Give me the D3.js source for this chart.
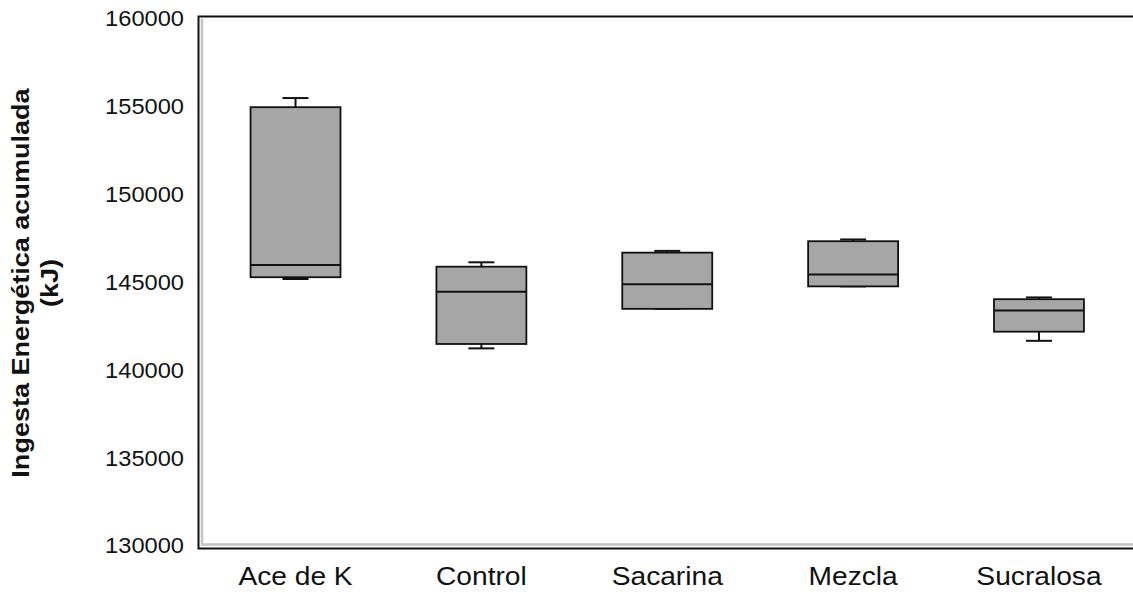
<!DOCTYPE html>
<html>
<head>
<meta charset="utf-8">
<script src="https://cdn.jsdelivr.net/npm/d3@7"></script>
<style>
  html, body { margin: 0; padding: 0; background: #fff; }
  svg { display: block; font-family: "Liberation Sans", Arial, sans-serif; }
</style>
</head>
<body>
<svg id="chart" width="1133" height="592"></svg>
<script>
// Treatment groups and five-number summaries (kJ)
const categories = ["Ace de K", "Control", "Sacarina", "Mezcla", "Sucralosa"];
const whiskerHigh = [155500, 146150, 146800, 147450, 144150];
const q3          = [154980, 145900, 146700, 147350, 144050];
const medians     = [146000, 144480, 144900, 145450, 143400];
const q1          = [145300, 141500, 143500, 144780, 142200];
const whiskerLow  = [145200, 141250, 143500, 144780, 141680];
const yTicks = [130000, 135000, 140000, 145000, 150000, 155000, 160000];
const yTitle = ["Ingesta Energética acumulada", "(kJ)"];

const rows = categories.map((c, i) => ({
  cat: c, hi: whiskerHigh[i], q3: q3[i], med: medians[i], q1: q1[i], lo: whiskerLow[i]
}));

const svg = d3.select("#chart");
const plotLeft = 198.5, plotTop = 16.5, plotBottom = 548.5, plotRight = 1136;
const wide = 1.1;       // horizontal glyph stretch for axis labels
const titleLong = 1.23; // stretch of the title along its reading direction

const x = d3.scaleBand()
  .domain(categories)
  .range([plotLeft, plotRight])
  .paddingInner(0.516)
  .paddingOuter(0.28);

const y = d3.scaleLinear()
  .domain([130000, 160000])
  .range([546, 19]);

// Plot frame: black border with a light grey inner edge on the left and bottom
svg.append("line").attr("x1", plotLeft + 3.5).attr("x2", plotLeft + 3.5)
  .attr("y1", plotTop + 2).attr("y2", plotBottom - 3)
  .attr("stroke", "#c4c4c4").attr("stroke-width", 2.5);
svg.append("line").attr("x1", plotLeft + 3).attr("x2", plotRight)
  .attr("y1", plotBottom - 4).attr("y2", plotBottom - 4)
  .attr("stroke", "#c4c4c4").attr("stroke-width", 2.5);
svg.append("path")
  .attr("d", `M${plotRight},${plotTop}H${plotLeft}V${plotBottom}H${plotRight}`)
  .attr("fill", "none").attr("stroke", "#111").attr("stroke-width", 2);

// Y axis labels (no tick marks)
const yAxis = d3.axisLeft(y).tickValues(yTicks).tickFormat(d3.format("d")).tickSize(0);
const ya = svg.append("g").attr("transform", `translate(${plotLeft},0)`).call(yAxis);
ya.select(".domain").remove();
ya.selectAll("text")
  .attr("font-size", 21.5).attr("fill", "#111")
  .attr("x", -14.5 / wide)
  .attr("transform", `scale(${wide},1)`)
  .style("font-family", "'Liberation Sans', Arial, sans-serif");

// X axis labels
const xAxis = d3.axisBottom(x).tickSize(0);
const xa = svg.append("g").attr("transform", `translate(0,${plotBottom})`).call(xAxis);
xa.select(".domain").remove();
xa.selectAll("text")
  .attr("font-size", 25.6).attr("fill", "#111")
  .attr("y", 36.5).attr("dy", 0)
  .attr("transform", `scale(${wide},1)`)
  .style("font-family", "'Liberation Sans', Arial, sans-serif");

// Y axis title, two lines, rotated
const title = svg.append("text")
  .attr("transform", `translate(0,283) rotate(-90) scale(${titleLong},${wide})`)
  .attr("text-anchor", "middle")
  .attr("font-weight", "bold").attr("font-size", 22).attr("fill", "#111");
title.selectAll("tspan").data(yTitle).join("tspan")
  .attr("x", 0).attr("y", (d, i) => i === 0 ? 29.5 / wide : 58 / wide)
  .text(d => d);

// Boxes
const bw = x.bandwidth();
const capW = 26;
const g = svg.append("g").selectAll("g").data(rows).join("g")
  .attr("transform", d => `translate(${x(d.cat) + bw / 2},0)`);

g.append("line").attr("x1", 0).attr("x2", 0)
  .attr("y1", d => y(d.hi)).attr("y2", d => y(d.q3))
  .attr("stroke", "#111").attr("stroke-width", 2);
g.append("line").attr("x1", 0).attr("x2", 0)
  .attr("y1", d => y(d.q1)).attr("y2", d => y(d.lo))
  .attr("stroke", "#111").attr("stroke-width", 2);
g.append("line").attr("x1", -capW / 2).attr("x2", capW / 2)
  .attr("y1", d => y(d.hi)).attr("y2", d => y(d.hi))
  .attr("stroke", "#111").attr("stroke-width", 2);
g.append("line").attr("x1", -capW / 2).attr("x2", capW / 2)
  .attr("y1", d => y(d.lo)).attr("y2", d => y(d.lo))
  .attr("stroke", "#111").attr("stroke-width", 2);
g.append("rect")
  .attr("x", -bw / 2).attr("width", bw)
  .attr("y", d => y(d.q3)).attr("height", d => y(d.q1) - y(d.q3))
  .attr("fill", "#a6a6a6").attr("stroke", "#111").attr("stroke-width", 1.8);
g.append("line").attr("x1", -bw / 2).attr("x2", bw / 2)
  .attr("y1", d => y(d.med)).attr("y2", d => y(d.med))
  .attr("stroke", "#111").attr("stroke-width", 2);
</script>
</body>
</html>
